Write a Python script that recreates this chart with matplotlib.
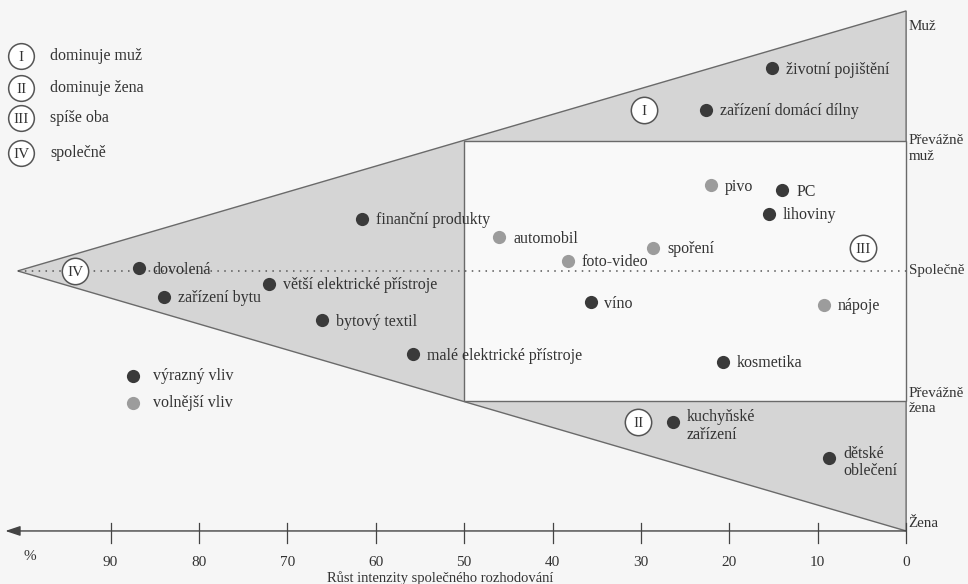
import matplotlib.pyplot as plt
from matplotlib.patches import Polygon, Rectangle

plt.rcParams['font.family'] = ['Liberation Serif', 'DejaVu Serif']

# products: share of joint decision (%), position man (+1) .. woman (-1), strong influence?
labels = ['životní pojištění', 'zařízení domácí dílny', 'pivo', 'PC', 'lihoviny',
          'spoření', 'automobil', 'foto-video', 'finanční produkty', 'dovolená',
          'zařízení bytu', 'větší elektrické přístroje', 'bytový textil',
          'malé elektrické přístroje', 'víno', 'nápoje', 'kosmetika',
          'kuchyňské\nzařízení', 'dětské\noblečení']
joint = [15.2, 22.6, 22.1, 14.0, 15.5, 28.6, 46.0, 38.3, 61.5, 86.8,
         83.9, 72.1, 66.1, 55.8, 35.7, 9.3, 20.7, 26.4, 8.7]
gender = [0.78, 0.62, 0.33, 0.31, 0.22, 0.09, 0.13, 0.04, 0.20, 0.01,
          -0.10, -0.05, -0.19, -0.32, -0.12, -0.13, -0.35, -0.58, -0.72]
strong = [True, True, False, True, True, False, False, False, True, True,
          True, True, True, True, True, False, True, True, True]

regions = ['I', 'II', 'III', 'IV']
region_names = ['dominuje muž', 'dominuje žena', 'spíše oba', 'společně']
region_x = [29.6, 30.3, 4.9, 94.0]
region_y = [0.62, -0.58, 0.09, 0.0]

side_labels = ['Muž', 'Převážně\nmuž', 'Společně', 'Převážně\nžena', 'Žena']
ticks = [90, 80, 70, 60, 50, 40, 30, 20, 10, 0]

dark = '#3a3a3a'
light = '#9c9c9c'
edge = '#6a6a6a'
txt = '#333333'
fs = 11.5
fs_side = 10.8

fig = plt.figure(figsize=(9.68, 5.84), dpi=100, facecolor='#f6f6f6')
ax = fig.add_axes([0, 0, 1, 1])
ax.set_facecolor('#f6f6f6')
ax.set_xlim(102.5, -7.0)
ax.set_ylim(-1.204, 1.042)
ax.axis('off')

# triangle and the white "both" rectangle
ax.add_patch(Polygon([(100.5, 0), (0, 1), (0, -1)], closed=True,
                     facecolor='#d5d5d5', edgecolor=edge, lw=1.0, zorder=1))
ax.add_patch(Rectangle((0, -0.5), 50, 1.0, facecolor='#f9f9f9',
                       edgecolor=edge, lw=1.0, zorder=2))
ax.plot([100.5, 0], [0, 0], color='#555555', lw=1.1,
        linestyle=(0, (1, 3.5)), zorder=3)

# points
for lab, x, y, s in zip(labels, joint, gender, strong):
    ax.plot(x, y, 'o', ms=9.5, color=dark if s else light, mec='none', zorder=5)
    if '\n' in lab:
        ax.annotate(lab, (x, y), xytext=(10, 9), textcoords='offset points',
                    ha='left', va='top', fontsize=fs, color=txt,
                    linespacing=1.15, zorder=6)
    else:
        ax.annotate(lab, (x, y), xytext=(10, -1), textcoords='offset points',
                    ha='left', va='center', fontsize=fs, color=txt, zorder=6)

# region circles
for r, x, y in zip(regions, region_x, region_y):
    ax.plot(x, y, 'o', ms=19, mfc='white', mec='#555555', mew=1.1, zorder=6)
    ax.text(x, y, r, ha='center', va='center_baseline', fontsize=11, color=txt, zorder=7)

# legend of regions (top left)
leg_y = [0.827, 0.704, 0.588, 0.454]
for r, name, y in zip(regions, region_names, leg_y):
    ax.plot(100.1, y, 'o', ms=18.5, mfc='white', mec='#555555', mew=1.1, zorder=6)
    ax.text(100.1, y, r, ha='center', va='center_baseline', fontsize=11, color=txt, zorder=7)
    ax.text(96.8, y, name, ha='left', va='center', fontsize=fs, color=txt)

# legend of influence
ax.plot(87.4, -0.404, 'o', ms=9.5, color=dark, mec='none')
ax.text(85.2, -0.404, 'výrazný vliv', ha='left', va='center', fontsize=fs, color=txt)
ax.plot(87.4, -0.508, 'o', ms=9.5, color=light, mec='none')
ax.text(85.2, -0.508, 'volnější vliv', ha='left', va='center', fontsize=fs, color=txt)

# right side labels
ax.text(-0.3, 0.94, side_labels[0], ha='left', va='center', fontsize=fs_side, color=txt)
ax.text(-0.3, 0.525, side_labels[1], ha='left', va='top', fontsize=fs_side,
        color=txt, linespacing=1.25)
ax.text(-0.3, 0.0, side_labels[2], ha='left', va='center', fontsize=fs_side, color=txt)
ax.text(-0.3, -0.445, side_labels[3], ha='left', va='top', fontsize=fs_side,
        color=txt, linespacing=1.25)
ax.text(-0.3, -0.973, side_labels[4], ha='left', va='center', fontsize=fs_side, color=txt)

# bottom axis
ax.annotate('', xy=(101.9, -1.0), xytext=(0, -1.0),
            arrowprops=dict(arrowstyle='-|>,head_length=0.9,head_width=0.3',
                            color='#444444', lw=1.0, shrinkA=0, shrinkB=0))
for t in ticks:
    ax.plot([t, t], [-0.97, -1.045], color='#444444', lw=0.9)
    ax.text(t, -1.12, str(t), ha='center', va='center', fontsize=11, color=txt)
ax.text(99.1, -1.10, '%', ha='center', va='center', fontsize=11, color=txt)
ax.text(52.7, -1.18, 'Růst intenzity společného rozhodování', ha='center',
        va='center', fontsize=10.5, color=txt)

fig.savefig('out.png', dpi=100, facecolor=fig.get_facecolor())
